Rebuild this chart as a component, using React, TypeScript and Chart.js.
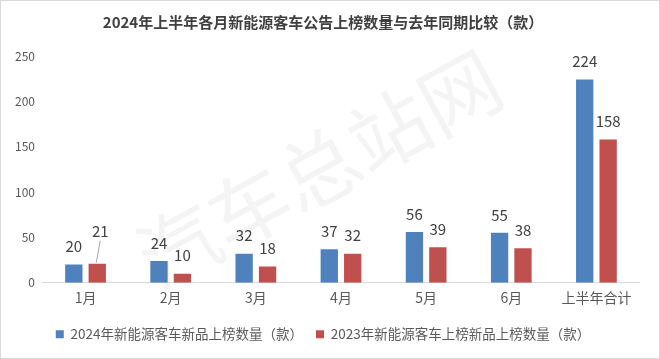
import React, { useEffect, useRef } from "react";
import { Chart, registerables } from "chart.js";

Chart.register(...registerables);

const categories = ["1月", "2月", "3月", "4月", "5月", "6月", "上半年合计"];
const series2024 = [20, 24, 32, 37, 56, 55, 224];
const series2023 = [21, 10, 18, 32, 39, 38, 158];
const label2024 = "2024年新能源客车新品上榜数量（款）";
const label2023 = "2023年新能源客车上榜新品上榜数量（款）";
const titleText = "2024年上半年各月新能源客车公告上榜数量与去年同期比较（款）";
const watermarkText = "汽车总站网";

const FONT = "'Noto Sans CJK SC', 'Noto Sans', sans-serif";

const dataLabelPlugin = {
  id: "dataLabels",
  afterDatasetsDraw(chart: any) {
    const ctx = chart.ctx;
    ctx.save();
    ctx.font = `15px ${FONT}`;
    ctx.fillStyle = "#404040";
    ctx.textAlign = "center";
    ctx.textBaseline = "middle";
    chart.data.datasets.forEach((ds: any, di: number) => {
      const meta = chart.getDatasetMeta(di);
      meta.data.forEach((bar: any, i: number) => {
        const v = ds.data[i];
        const special = di === 1 && i === 0;
        const lift = special ? 32 : 18;
        const x = bar.x + (special ? 3 : 0);
        const y = bar.y - lift;
        ctx.fillText(String(v), x, y);
        if (special) {
          ctx.strokeStyle = "#a6a6a6";
          ctx.lineWidth = 1;
          ctx.beginPath();
          ctx.moveTo(x, y + 9);
          ctx.lineTo(bar.x - 1, bar.y - 1);
          ctx.stroke();
        }
      });
    });
    ctx.restore();
  },
};

const watermarkPlugin = {
  id: "watermark",
  beforeDatasetsDraw(chart: any) {
    const ctx = chart.ctx;
    ctx.save();
    ctx.translate(318, 168);
    ctx.rotate(-0.5);
    ctx.font = `80px ${FONT}`;
    ctx.fillStyle = "rgba(0,0,0,0.045)";
    ctx.textAlign = "center";
    ctx.textBaseline = "middle";
    ctx.fillText(watermarkText, 0, 0);
    ctx.restore();
  },
};

export default function App() {
  const ref = useRef<HTMLCanvasElement>(null);
  useEffect(() => {
    if (!ref.current) return;
    const chart = new Chart(ref.current, {
      type: "bar",
      data: {
        labels: categories,
        datasets: [
          {
            label: label2024,
            data: series2024,
            backgroundColor: "#4f81bd",
            barPercentage: 0.74,
            categoryPercentage: 0.55,
          },
          {
            label: label2023,
            data: series2023,
            backgroundColor: "#c0504d",
            barPercentage: 0.74,
            categoryPercentage: 0.55,
          },
        ],
      },
      options: {
        animation: false,
        responsive: false,
        maintainAspectRatio: false,
        devicePixelRatio: 1,
        layout: { padding: { left: 6, right: 20, top: 4, bottom: 7 } },
        plugins: {
          title: {
            display: true,
            text: titleText,
            color: "#404040",
            font: { family: FONT, size: 15, weight: "bold" },
            padding: { top: 8, bottom: 25 },
          },
          legend: {
            display: true,
            position: "bottom",
            labels: {
              color: "#595959",
              font: { family: FONT, size: 13.5 },
              boxWidth: 8,
              boxHeight: 8,
              padding: 13,
            },
          },
          tooltip: { enabled: false },
        },
        scales: {
          x: {
            grid: { display: false, drawTicks: false },
            border: { display: true, color: "#d9d9d9" },
            ticks: { color: "#595959", font: { family: FONT, size: 14 }, padding: 7 },
            afterFit: (scale: any) => {
              scale.height += 1;
            },
          },
          y: {
            min: 0,
            max: 250,
            grid: { display: false, drawTicks: false },
            border: { display: false },
            ticks: {
              stepSize: 50,
              color: "#595959",
              font: { family: FONT, size: 12 },
              padding: 8,
            },
          },
        },
      },
      plugins: [watermarkPlugin, dataLabelPlugin],
    });
    return () => chart.destroy();
  }, []);
  return (
    <div
      style={{
        position: "fixed",
        left: 0,
        top: 0,
        width: 660,
        height: 359,
        boxSizing: "border-box",
        border: "1px solid #d9d9d9",
        background: "#fff",
        overflow: "hidden",
      }}
    >
      <canvas ref={ref} width={658} height={357} style={{ display: "block" }} />
    </div>
  );
}
